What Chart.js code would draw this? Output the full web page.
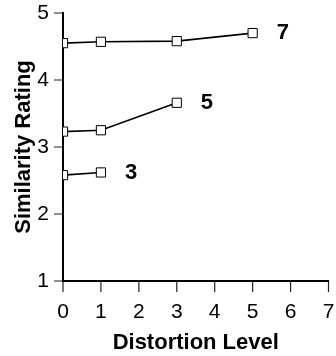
<!DOCTYPE html>
<html>
<head>
<meta charset="utf-8">
<script src="https://cdn.jsdelivr.net/npm/chart.js@4"></script>
<style>
  html, body { margin: 0; padding: 0; background: #fff; }
  #wrap { width: 336px; height: 356px; }
</style>
</head>
<body>
<div id="wrap"><canvas id="chart"></canvas></div>
<script>
// distortion levels and similarity ratings, one series per pattern size
var levels7 = [0, 1, 3, 5];
var ratings7 = [4.55, 4.57, 4.58, 4.70];
var levels5 = [0, 1, 3];
var ratings5 = [3.23, 3.25, 3.66];
var levels3 = [0, 1];
var ratings3 = [2.58, 2.62];
var seriesNames = ['7', '5', '3'];

var xRange = [0, 7];
var yRange = [1, 5];
var tickStep = 1;

function toPoints(xs, ys) {
	var pts = [];
	for (var i = 0; i < xs.length; i++) {
		pts.push({ x: xs[i], y: ys[i] });
	}
	return pts;
}

function makeSet(name, xs, ys) {
	return {
		label: name,
		data: toPoints(xs, ys),
		borderColor: '#000',
		borderWidth: 1.6,
		pointStyle: 'rect',
		pointRadius: 6.5,
		pointBackgroundColor: '#fff',
		pointBorderColor: '#000',
		pointBorderWidth: 1,
		fill: false,
		tension: 0
	};
}

// outside tick marks on both axes (drawn first, before anything clips)
var tickMarks = {
	id: 'tickMarks',
	beforeDraw: function(chart) {
		var ctx = chart.ctx;
		var xs = chart.scales.x, ys = chart.scales.y;
		var area = chart.chartArea;
		ctx.save();
		ctx.strokeStyle = '#222';
		ctx.lineWidth = 1.2;
		ctx.beginPath();
		for (var i = 0; i < xs.ticks.length; i++) {
			var px = xs.getPixelForValue(xs.ticks[i].value);
			ctx.moveTo(px, area.bottom);
			ctx.lineTo(px, area.bottom + 11);
		}
		for (var j = 0; j < ys.ticks.length; j++) {
			var py = ys.getPixelForValue(ys.ticks[j].value);
			ctx.moveTo(area.left - 9, py);
			ctx.lineTo(area.left, py);
		}
		ctx.stroke();
		ctx.restore();
	}
};

// series name after each line's last point
var endLabels = {
	id: 'endLabels',
	afterDatasetsDraw: function(chart) {
		var ctx = chart.ctx;
		ctx.save();
		ctx.fillStyle = '#000';
		ctx.font = 'bold 22px "Liberation Sans", Arial, sans-serif';
		ctx.textBaseline = 'middle';
		chart.data.datasets.forEach(function(ds, k) {
			var meta = chart.getDatasetMeta(k);
			var last = meta.data[meta.data.length - 1];
			ctx.fillText(ds.label, last.x + 24, last.y);
		});
		ctx.restore();
	}
};

var font = '"Liberation Sans", Arial, sans-serif';

new Chart(document.getElementById('chart'), {
	type: 'line',
	data: {
		datasets: [
			makeSet(seriesNames[0], levels7, ratings7),
			makeSet(seriesNames[1], levels5, ratings5),
			makeSet(seriesNames[2], levels3, ratings3)
		]
	},
	options: {
		responsive: true,
		maintainAspectRatio: false,
		animation: false,
		layout: { padding: { top: 13, right: 5, left: 0, bottom: 0 } },
		plugins: { legend: { display: false }, tooltip: { enabled: false } },
		scales: {
			x: {
				type: 'linear',
				min: xRange[0],
				max: xRange[1],
				clip: false,
				afterFit: function(scale) {
					scale.height = 75;
					scale.paddingLeft = 0;
					scale.paddingRight = 0;
				},
				grid: { display: false, drawTicks: false },
				border: { display: true, color: '#000', width: 2 },
				ticks: { stepSize: tickStep, color: '#000', padding: 19, font: { family: font, size: 21 } },
				title: {
					display: true,
					text: 'Distortion Level',
					color: '#000',
					padding: { top: 2, bottom: 0 },
					font: { family: font, size: 22, weight: 'bold' }
				}
			},
			y: {
				type: 'linear',
				min: yRange[0],
				max: yRange[1],
				clip: false,
				afterFit: function(scale) {
					scale.width = 63;
					scale.paddingTop = 0;
					scale.paddingBottom = 0;
				},
				grid: { display: false, drawTicks: false },
				border: { display: true, color: '#000', width: 2 },
				ticks: { stepSize: tickStep, color: '#000', padding: 14, font: { family: font, size: 21 } },
				title: {
					display: true,
					text: 'Similarity Rating',
					color: '#000',
					padding: { top: 11, bottom: 0 },
					font: { family: font, size: 22, weight: 'bold' }
				}
			}
		}
	},
	plugins: [tickMarks, endLabels]
});
</script>
</body>
</html>
